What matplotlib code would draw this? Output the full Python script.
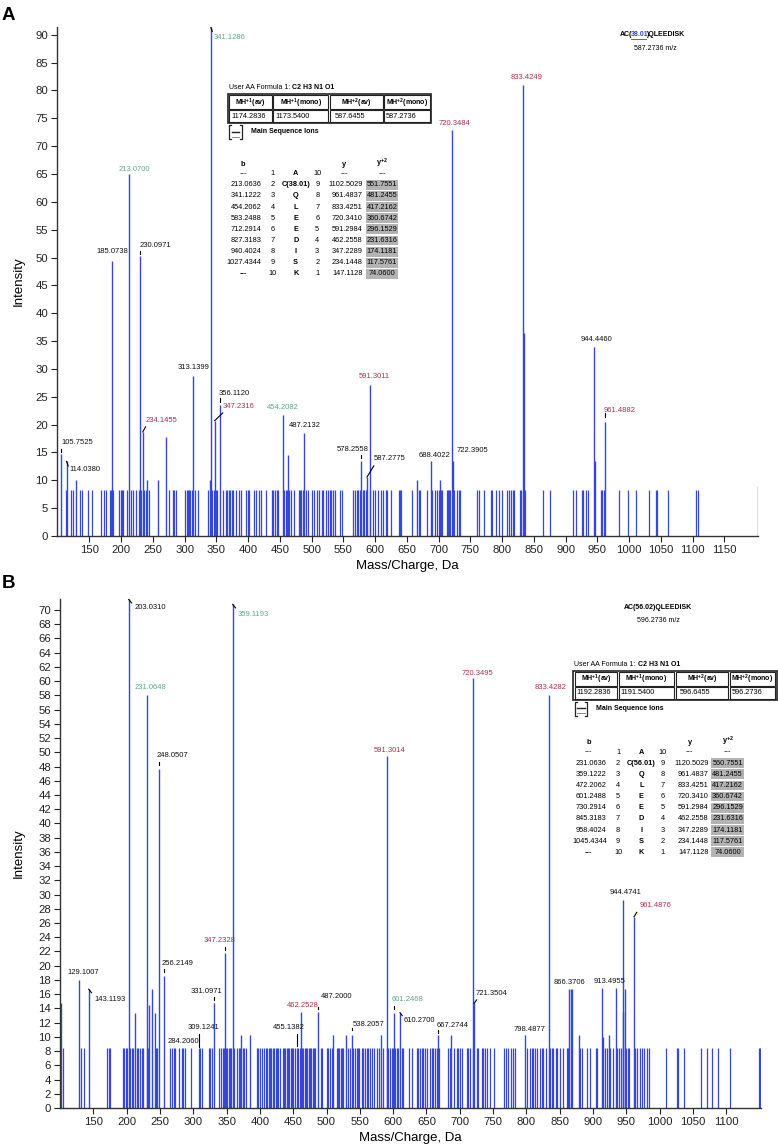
import matplotlib
matplotlib.use("Agg")
import matplotlib.pyplot as plt
from matplotlib.patches import Rectangle
from matplotlib.lines import Line2D

plt.rcParams['font.family'] = ['Liberation Sans', 'DejaVu Sans']
plt.rcParams['mathtext.fontset'] = 'custom'
plt.rcParams['mathtext.rm'] = 'Liberation Sans'
plt.rcParams['mathtext.bf'] = 'Liberation Sans:bold'
plt.rcParams['mathtext.it'] = 'Liberation Sans:italic'

# ---------------- data : panel A ----------------
peaks_a_mz = [105.7525, 114.0380, 185.0738, 213.0700, 230.0971, 234.1455, 313.1399, 341.1286,
              347.2316, 356.1120, 454.2082, 487.2132, 578.2558, 587.2775, 591.3011, 688.4022,
              720.3484, 722.3905, 833.4249, 944.4460, 961.4882,
              128.9, 240.7, 258.5, 270.1, 339.5, 462.2, 665.3, 702.5, 834.8, 946.1, 1202.5]
peaks_a_int = [14.7, 13.4, 49.4, 65.0, 50.2, 18.7, 28.8, 91.4,
               20.7, 23.6, 21.7, 18.5, 13.4, 10.6, 27.2, 13.4,
               72.9, 13.5, 81.0, 34.0, 20.4,
               10.1, 10.0, 10.0, 17.8, 10.0, 14.6, 10.1, 10.1, 36.4, 13.5, 9.0]
noise_a_level = 8.2
noise_a_mz = [112.6, 120.5, 124.7, 135.7, 138.3, 147.3, 154.1, 167.7, 173.5, 175.6, 182.4, 184.0,
              186.5, 197.1, 199.2, 201.3, 202.9, 209.7, 215.5, 218.1, 223.4, 228.6, 231.2, 236.5,
              238.6, 243.8, 275.3, 281.6, 283.7, 286.4, 300.5, 303.2, 304.7, 306.8, 308.9, 311.0,
              316.3, 321.0, 337.3, 343.6, 346.2, 349.9, 351.5, 360.2, 365.5, 367.0, 369.2, 371.3,
              373.9, 376.0, 380.7, 385.5, 389.2, 396.0, 399.7, 401.3, 409.1, 411.8, 417.0, 419.7,
              428.6, 437.0, 439.6, 441.7, 444.9, 447.0, 456.9, 459.5, 461.1, 464.3, 467.4, 471.6,
              479.5, 481.6, 483.7, 485.8, 490.6, 494.2, 501.1, 503.7, 509.0, 511.6, 516.8, 518.4,
              522.1, 526.3, 528.9, 531.0, 534.2, 536.8, 544.2, 548.4, 565.7, 568.8, 571.4, 573.5,
              575.6, 580.3, 582.9, 585.5, 592.6, 596.3, 600.5, 605.2, 608.9, 612.1, 617.3, 619.4,
              624.7, 637.5, 639.0, 640.6, 657.4, 669.0, 670.5, 681.0, 690.0, 694.2, 696.8, 700.0,
              703.6, 705.7, 712.5, 714.1, 716.2, 718.3, 724.6, 729.3, 731.4, 734.0, 759.8, 764.0,
              771.8, 782.3, 784.4, 790.7, 794.4, 799.7, 807.5, 810.7, 813.3, 816.4, 819.1, 827.5,
              830.1, 835.9, 863.7, 875.2, 912.0, 916.7, 925.1, 926.7, 931.9, 935.6, 955.5, 957.6,
              960.8, 983.9, 998.6, 1010.6, 1031.6, 1042.7, 1044.7, 1061.0, 1105.1, 1108.8]

# ---------------- data : panel B ----------------
peaks_b_mz = [129.1007, 143.1193, 203.0310, 231.0648, 248.0507, 256.2149, 331.0971, 347.2328,
              359.1193, 462.2528, 487.2000, 538.2057, 591.3014, 601.2468, 610.2700, 667.2744,
              720.3495, 721.3504, 798.4877, 833.4282, 866.3706, 913.4955, 944.4741, 961.4876,
              101.0, 212.0, 234.0, 238.5, 242.5, 372.0, 385.0, 510.0, 529.5, 581.5, 687.2,
              864.6, 868.9, 878.2, 914.2, 923.2, 934.2, 945.2, 948.2]
peaks_b_int = [18.0, 16.7, 71.5, 58.1, 47.7, 18.6, 14.7, 21.8,
               70.8, 13.5, 13.5, 10.2, 49.5, 13.4, 13.4, 10.2,
               60.4, 14.7, 10.2, 58.1, 16.7, 16.8, 29.2, 26.9,
               14.7, 13.4, 14.5, 16.7, 13.4, 10.2, 10.2, 10.2, 10.2, 10.2, 10.2,
               16.7, 16.7, 10.2, 10.0, 10.2, 16.8, 13.5, 16.7]
noise_b_level = 8.4
noise_b_mz = [105.0, 131.9, 135.9, 171.0, 173.0, 175.0, 194.0, 196.0, 198.5, 200.5, 204.5, 207.5,
              210.0, 215.0, 217.5, 220.0, 222.5, 224.0, 230.0, 232.5, 243.5, 246.0, 265.0, 267.5,
              270.5, 272.5, 278.0, 283.0, 285.0, 287.5, 296.0, 308.0, 310.0, 313.0, 324.0, 325.5,
              327.5, 339.0, 341.5, 344.0, 346.0, 349.0, 351.0, 353.0, 355.0, 357.0, 361.0, 365.0,
              368.0, 370.0, 374.0, 376.5, 378.5, 395.5, 397.5, 400.0, 403.0, 406.0, 408.5, 410.5,
              413.0, 415.0, 417.0, 419.0, 421.5, 423.5, 425.5, 427.5, 430.0, 434.0, 436.0, 438.0,
              440.0, 442.0, 444.0, 446.0, 448.0, 450.0, 452.5, 455.0, 457.5, 460.0, 463.0, 465.0,
              467.0, 469.0, 471.0, 473.0, 475.0, 477.0, 479.0, 481.0, 483.0, 491.0, 493.0, 500.0,
              502.5, 505.0, 508.0, 515.0, 517.0, 519.0, 521.0, 523.0, 525.0, 532.0, 535.0, 540.0,
              543.0, 545.0, 547.0, 549.0, 552.5, 555.0, 557.5, 560.0, 562.5, 565.0, 568.0, 571.0,
              575.0, 578.5, 585.2, 590.0, 592.5, 595.2, 597.5, 599.2, 603.0, 605.0, 607.5, 612.7,
              615.2, 624.2, 627.7, 635.2, 637.7, 640.2, 643.2, 645.2, 647.7, 650.2, 655.2, 657.7,
              660.2, 662.7, 665.2, 669.2, 682.7, 685.2, 691.2, 695.2, 697.7, 700.2, 702.7, 710.2,
              712.7, 715.2, 719.2, 725.2, 727.7, 732.7, 735.2, 737.7, 740.2, 745.2, 751.2, 766.7,
              769.2, 772.7, 776.2, 779.2, 782.2, 800.2, 805.2, 807.7, 810.2, 812.7, 815.2, 820.2,
              822.7, 825.2, 828.7, 835.2, 837.7, 840.2, 844.2, 846.2, 850.2, 854.2, 860.2, 862.2,
              880.2, 882.7, 890.2, 895.2, 904.2, 906.2, 917.2, 920.2, 925.2, 930.2, 936.2, 939.2,
              942.2, 949.2, 951.7, 953.2, 962.2, 966.2, 970.2, 973.2, 975.7, 980.2, 984.2, 1008.7,
              1026.2, 1027.7, 1036.2, 1061.7, 1070.7, 1078.7, 1088.2, 1105.7, 1149.2, 1150.7]

# peak labels: text, x (m/z), y (intensity), alignment, ion type
labels_a = [("105.7525", 106.4, 16.8, 'left', 'o'), ("114.0380", 118.4, 11.9, 'left', 'o'),
            ("185.0738", 185.6, 51.0, 'center', 'o'), ("213.0700", 220.5, 65.9, 'center', 'b'),
            ("230.0971", 229.8, 52.1, 'left', 'o'), ("234.1455", 238.6, 20.7, 'left', 'y'),
            ("313.1399", 313.6, 30.2, 'center', 'o'), ("341.1286", 345.0, 89.5, 'left', 'b'),
            ("356.1120", 354.0, 25.6, 'left', 'o'), ("347.2316", 359.9, 23.2, 'left', 'y'),
            ("454.2082", 455.3, 23.0, 'center', 'b'), ("487.2132", 489.5, 19.8, 'center', 'o'),
            ("578.2558", 564.0, 15.6, 'center', 'o'), ("587.2775", 598.5, 14.0, 'left', 'o'),
            ("591.3011", 598.1, 28.6, 'center', 'y'), ("688.4022", 693.0, 14.5, 'center', 'o'),
            ("722.3905", 728.3, 15.3, 'left', 'o'), ("720.3484", 725.2, 74.1, 'center', 'y'),
            ("833.4249", 838.5, 82.3, 'center', 'y'), ("944.4460", 949.2, 35.3, 'center', 'o'),
            ("961.4882", 960.3, 22.5, 'left', 'y')]
labels_b = [("203.0310", 212.5, 70.4, 'left', 'o'), ("359.1193", 366.6, 69.4, 'left', 'b'),
            ("231.0648", 235.5, 59.1, 'center', 'b'), ("248.0507", 268.5, 49.6, 'center', 'o'),
            ("591.3014", 594.4, 50.3, 'center', 'y'), ("720.3495", 726.2, 61.1, 'center', 'y'),
            ("833.4282", 836.4, 59.1, 'center', 'y'), ("944.4741", 948.4, 30.3, 'center', 'o'),
            ("961.4876", 970.4, 28.4, 'left', 'y'), ("866.3706", 864.3, 17.7, 'center', 'o'),
            ("913.4955", 924.3, 17.8, 'center', 'o'), ("721.3504", 723.8, 16.1, 'left', 'o'),
            ("798.4877", 804.3, 11.1, 'center', 'o'), ("667.2744", 689.3, 11.6, 'center', 'o'),
            ("601.2468", 622.2, 15.2, 'center', 'b'), ("610.2700", 615.2, 12.3, 'left', 'o'),
            ("538.2057", 538.6, 11.7, 'left', 'o'), ("487.2000", 515.7, 15.7, 'center', 'o'),
            ("462.2528", 464.2, 14.4, 'center', 'y'), ("455.1382", 443.6, 11.3, 'center', 'o'),
            ("347.2328", 339.0, 23.6, 'center', 'y'), ("331.0971", 319.5, 16.4, 'center', 'o'),
            ("309.1241", 315.0, 11.3, 'center', 'o'), ("284.2060", 285.0, 9.3, 'center', 'o'),
            ("256.2149", 276.6, 20.3, 'center', 'o'), ("129.1007", 135.5, 19.1, 'center', 'o'),
            ("143.1193", 151.0, 15.2, 'left', 'o')]

# leader / marker segments (x1, y1, x2, y2)
leaders_a = [(105.75, 15.0, 105.75, 15.7), (114.04, 13.4, 116.5, 12.6), (230.10, 50.6, 230.10, 51.1),
             (234.15, 18.7, 238.5, 19.6), (341.13, 91.4, 343.5, 90.6), (347.23, 20.7, 360.0, 22.1),
             (356.11, 24.1, 356.11, 24.7), (578.26, 14.0, 578.26, 14.6), (587.28, 10.6, 598.0, 12.6),
             (961.49, 21.4, 961.49, 22.0)]
leaders_b = [(203.03, 71.5, 207.5, 71.0), (359.12, 70.8, 363.5, 70.3), (143.12, 16.7, 147.4, 16.2),
             (248.05, 48.2, 248.05, 48.7), (256.21, 19.1, 256.21, 19.5), (309.12, 8.6, 309.12, 10.4),
             (331.10, 15.2, 331.10, 15.6), (347.23, 22.2, 347.23, 22.6), (455.14, 8.7, 455.14, 10.4),
             (538.21, 10.9, 538.21, 11.2), (601.25, 13.9, 601.25, 14.3), (610.27, 13.4, 613.5, 13.0),
             (667.27, 10.6, 667.27, 10.9), (721.35, 14.7, 725.3, 15.2), (961.49, 26.9, 965.5, 27.5),
             (487.20, 13.9, 487.20, 14.2)]

# fragment tables
residues_a = ["C(38.01)", "Q", "L", "E", "E", "D", "I", "S", "K"]
residues_b = ["C(56.01)", "Q", "L", "E", "E", "D", "I", "S", "K"]
b_ions_a = ["213.0636", "341.1222", "454.2062", "583.2488", "712.2914", "827.3183", "940.4024", "1027.4344", "---"]
b_ions_b = ["231.0636", "359.1222", "472.2062", "601.2488", "730.2914", "845.3183", "958.4024", "1045.4344", "---"]
y_ions_a = ["1102.5029", "961.4837", "833.4251", "720.3410", "591.2984", "462.2558", "347.2289", "234.1448", "147.1128"]
y_ions_b = ["1120.5029", "961.4837", "833.4251", "720.3410", "591.2984", "462.2558", "347.2289", "234.1448", "147.1128"]
y2_ions_a = ["551.7551", "481.2455", "417.2162", "360.6742", "296.1529", "231.6316", "174.1181", "117.5761", "74.0600"]
y2_ions_b = ["560.7551", "481.2455", "417.2162", "360.6742", "296.1529", "231.6316", "174.1181", "117.5761", "74.0600"]
mh_a = ["1174.2836", "1173.5400", "587.6455", "587.2736"]
mh_b = ["1192.2836", "1191.5400", "596.6455", "596.2736"]
mh_headers = [r"$\mathbf{MH^{+1}(av)}$", r"$\mathbf{MH^{+1}(mono)}$",
              r"$\mathbf{MH^{+2}(av)}$", r"$\mathbf{MH^{+2}(mono)}$"]

BAR = '#3646d6'
GREEN = '#5ea88c'
RED = '#a8324a'
ion_color = {'o': '#111111', 'b': GREEN, 'y': RED}

W, H = 778, 1146
fig = plt.figure(figsize=(W / 100, H / 100), dpi=100)
renderer = fig.canvas.get_renderer()


def fx(x):
    return x / W


def fy(y):
    return 1 - y / H


def ftext(x, y, s, **kw):
    kw.setdefault('va', 'center')
    kw.setdefault('fontsize', 5.3)
    return fig.text(fx(x), fy(y), s, **kw)


def chain(x, y, pieces, tighten=0.0):
    # write text pieces one after another, returns their pixel spans
    spans = []
    for s, kw in pieces:
        t = ftext(x, y, s, **kw)
        bb = t.get_window_extent(renderer)
        spans.append((x, bb.x1 - tighten))
        x = bb.x1 - tighten
    return spans


def frect(x0, y0, x1, y1, **kw):
    fig.add_artist(Rectangle((fx(x0), fy(y1)), (x1 - x0) / W, (y1 - y0) / H,
                             transform=fig.transFigure, **kw))


def fline(xs, ys, **kw):
    fig.add_artist(Line2D([fx(x) for x in xs], [fy(y) for y in ys],
                          transform=fig.transFigure, **kw))


def spectrum(rect, peaks_mz, peaks_int, noise_mz, noise_level, labels, leaders,
             xlim, ylim, yticks, xticks, ylab_x):
    ax = fig.add_axes(rect)
    ax.vlines(noise_mz, 0, noise_level, color=BAR, lw=0.9)
    ax.vlines(peaks_mz, 0, peaks_int, color=BAR, lw=1.0)
    for x1, y1, x2, y2 in leaders:
        ax.plot([x1, x2], [y1, y2], color='k', lw=0.8)
    for txt, x, y, ha, kind in labels:
        ax.text(x, y, txt, ha=ha, va='center', fontsize=5.5, color=ion_color[kind])
    ax.set_xlim(*xlim)
    ax.set_ylim(*ylim)
    ax.set_yticks(yticks)
    ax.set_xticks(xticks)
    for s in ['top', 'right']:
        ax.spines[s].set_visible(False)
    for s in ['left', 'bottom']:
        ax.spines[s].set_color('#333333')
        ax.spines[s].set_linewidth(1.0)
    ax.tick_params(direction='out', length=4, width=0.8, labelsize=8.2, colors='#222222', pad=2.5)
    ax.set_ylabel("Intensity", fontsize=9.5)
    ax.set_xlabel("Mass/Charge, Da", fontsize=9.5)
    ax.yaxis.set_label_coords(ylab_x, 0.5)
    ax.xaxis.set_label_coords(0.5, -0.047)
    return ax


def info_block(x0, ymh, yh, residues, b_ions, y_ions, y2_ions, mh_vals):
    # formula line
    chain(x0 + 1, ymh - 6.3, [("User AA Formula 1: ", dict(fontsize=5.0)),
                              ("C2 H3 N1 O1", dict(fontsize=5.0, fontweight='bold'))])
    # MH box
    frect(x0, ymh, x0 + 203.3, ymh + 29.3, fill=False, lw=1.2, ec='#222222')
    cols = [(1.5, 44), (45.6, 100.6), (102.3, 155), (156.6, 201.8)]
    rows = [(1.5, 15.0), (16.3, 27.8)]
    for i, (c0, c1) in enumerate(cols):
        for r0, r1 in rows:
            frect(x0 + c0, ymh + r0, x0 + c1, ymh + r1, fill=False, lw=0.8, ec='#222222')
        ftext(x0 + (c0 + c1) / 2, ymh + 9.0, mh_headers[i], ha='center', fontsize=5.0)
        pad = 4.5 if i == 2 else 1.8
        ftext(x0 + c0 + pad, ymh + 22, mh_vals[i], fontsize=5.3)
    # main sequence ions toggle
    yb = ymh + 31
    fline([x0 + 3.5, x0 + 1.5, x0 + 1.5, x0 + 3.5], [yb, yb, yb + 14, yb + 14], color='#222222', lw=0.9)
    fline([x0 + 12, x0 + 14, x0 + 14, x0 + 12], [yb, yb, yb + 14, yb + 14], color='#222222', lw=0.9)
    fline([x0 + 4, x0 + 11.5], [yb + 6.5, yb + 6.5], color='#222222', lw=1.0)
    fline([x0 + 4, x0 + 11.5], [yb + 11.5, yb + 11.5], color='#777777', lw=0.6)
    ftext(x0 + 23, yb + 6.5, "Main Sequence Ions", fontsize=5.0, fontweight='bold')
    # fragment table
    cb, ci, caa, ci2, cy, cy2 = x0 + 15.3, x0 + 44.8, x0 + 68, x0 + 89.5, x0 + 116.5, x0 + 154.3
    ftext(cb, yh, "b", ha='center', fontweight='bold')
    ftext(cy, yh, "y", ha='center', fontweight='bold')
    ftext(cy2, yh - 1, r"$\mathbf{y^{+2}}$", ha='center')
    r1 = yh + 9.4
    for x, s in [(cb, "---"), (ci, "1"), (caa, "A"), (ci2, "10"), (cy, "---"), (cy2, "---")]:
        ftext(x, r1, s, ha='center', fontweight='bold' if s == "A" else 'normal')
    for i in range(9):
        yy = yh + 20.5 + 11.15 * i
        if b_ions[i] == "---":
            ftext(cb, yy, b_ions[i], ha='center', fontweight='bold')
        else:
            ftext(x0 + 33.5, yy, b_ions[i], ha='right')
        ftext(ci, yy, str(i + 2), ha='center')
        ftext(caa, yy, residues[i], ha='center', fontweight='bold')
        ftext(ci2, yy, str(9 - i), ha='center')
        ftext(x0 + 135, yy, y_ions[i], ha='right')
        frect(x0 + 138, yy - 5, x0 + 170.6, yy + 4.8, fc='#b3b3b3', ec='none')
        ftext(cy2, yy, y2_ions[i], ha='center')


# ---------------- panel A ----------------
spectrum([57 / W, 1 - 536 / H, 701 / W, 509 / H], peaks_a_mz, peaks_a_int, noise_a_mz, noise_a_level,
         labels_a, leaders_a, (99, 1203), (0, 91.4), list(range(0, 91, 5)),
         list(range(150, 1151, 50)), -0.046)
fig.text(fx(2), fy(20), "A", fontsize=13.5, fontweight='bold', va='baseline')
spans = chain(620, 35, [("AC(", dict(fontsize=5.0, fontweight='bold')),
                        ("38.01", dict(fontsize=5.0, fontweight='bold', color='#3344cc')),
                        (")QLEEDISK", dict(fontsize=5.0, fontweight='bold'))], tighten=1.8)
fline([spans[1][0] + 0.3, spans[1][1] - 0.3], [39.2, 39.2], color='#3344cc', lw=0.6)
ftext(655, 48.3, "587.2736 m/z", fontsize=5.0, ha='center')
info_block(227.7, 94, 164.3, residues_a, b_ions_a, y_ions_a, y2_ions_a, mh_a)

# ---------------- panel B ----------------
spectrum([60 / W, 1 - 1108 / H, 701 / W, 509 / H], peaks_b_mz, peaks_b_int, noise_b_mz, noise_b_level,
         labels_b, leaders_b, (100, 1152), (0, 71.55), list(range(0, 71, 2)),
         list(range(150, 1101, 50)), -0.05)
fig.text(fx(2), fy(588), "B", fontsize=13.5, fontweight='bold', va='baseline')
ftext(658, 607.3, "AC(56.02)QLEEDISK", fontsize=5.0, fontweight='bold', ha='center')
ftext(658, 621, "596.2736 m/z", fontsize=5.0, ha='center')
info_block(573.3, 670.7, 742.7, residues_b, b_ions_b, y_ions_b, y2_ions_b, mh_b)

fig.savefig("out.png", dpi=100)
